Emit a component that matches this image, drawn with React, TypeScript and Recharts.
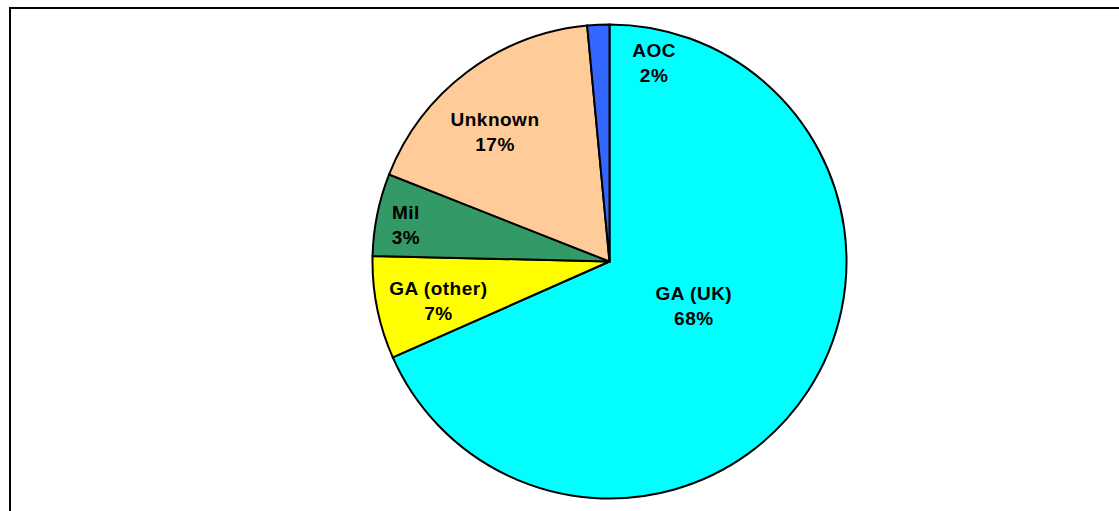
import React from "react";
import { PieChart, Pie, Cell } from "recharts";

// Data
const categories = ["GA (UK)", "GA (other)", "Mil", "Unknown", "AOC"];
const values = [68.3, 7.0, 5.6, 17.5, 1.5];
const percentLabels = ["68%", "7%", "3%", "17%", "2%"];

// Styling
const colors = ["#00FFFF", "#FFFF00", "#339966", "#FFCC99", "#3366FF"];
// label offsets relative to pie centre (fraction of outer radius)
const labelOffsets: [number, number][] = [
  [0.356, 0.135],
  [-0.722, 0.114],
  [-0.859, -0.207],
  [-0.483, -0.601],
  [0.188, -0.892],
];

const data = categories.map((name, i) => ({ name, value: values[i] }));

const renderLabel = (props: any) => {
  const { cx, cy, outerRadius, index } = props;
  const [fx, fy] = labelOffsets[index];
  const x = cx + fx * outerRadius;
  const y = cy + fy * outerRadius;
  const common = {
    textAnchor: "middle" as const,
    dominantBaseline: "central" as const,
    fontFamily: "'Liberation Sans', Arial, sans-serif",
    fontSize: 19,
    fontWeight: "bold" as const,
    fill: "#000",
    letterSpacing: 0.5,
  };
  return (
    <g>
      <text x={x} y={y} {...common}>
        {categories[index]}
      </text>
      <text x={x} y={y + 25} {...common}>
        {percentLabels[index]}
      </text>
    </g>
  );
};

export default function App() {
  return (
    <div style={{ position: "absolute", left: 0, top: 0, width: 1119, height: 511, background: "#fff", overflow: "hidden" }}>
      <div
        style={{
          position: "absolute",
          left: 9,
          top: 7,
          width: 1110,
          height: 504,
          borderLeft: "2px solid #000",
          borderTop: "2px solid #000",
          boxSizing: "border-box",
        }}
      />
      <div style={{ position: "absolute", left: 0, top: 0 }}>
        <PieChart width={1119} height={511} margin={{ top: 0, right: 0, bottom: 0, left: 0 }}>
          <Pie
            data={data}
            dataKey="value"
            nameKey="name"
            cx={609.5}
            cy={261.5}
            outerRadius={237}
            startAngle={90}
            endAngle={-270}
            stroke="#000"
            strokeWidth={2}
            label={renderLabel}
            labelLine={false}
            isAnimationActive={false}
          >
            {data.map((d, i) => (
              <Cell key={d.name} fill={colors[i]} />
            ))}
          </Pie>
        </PieChart>
      </div>
    </div>
  );
}
